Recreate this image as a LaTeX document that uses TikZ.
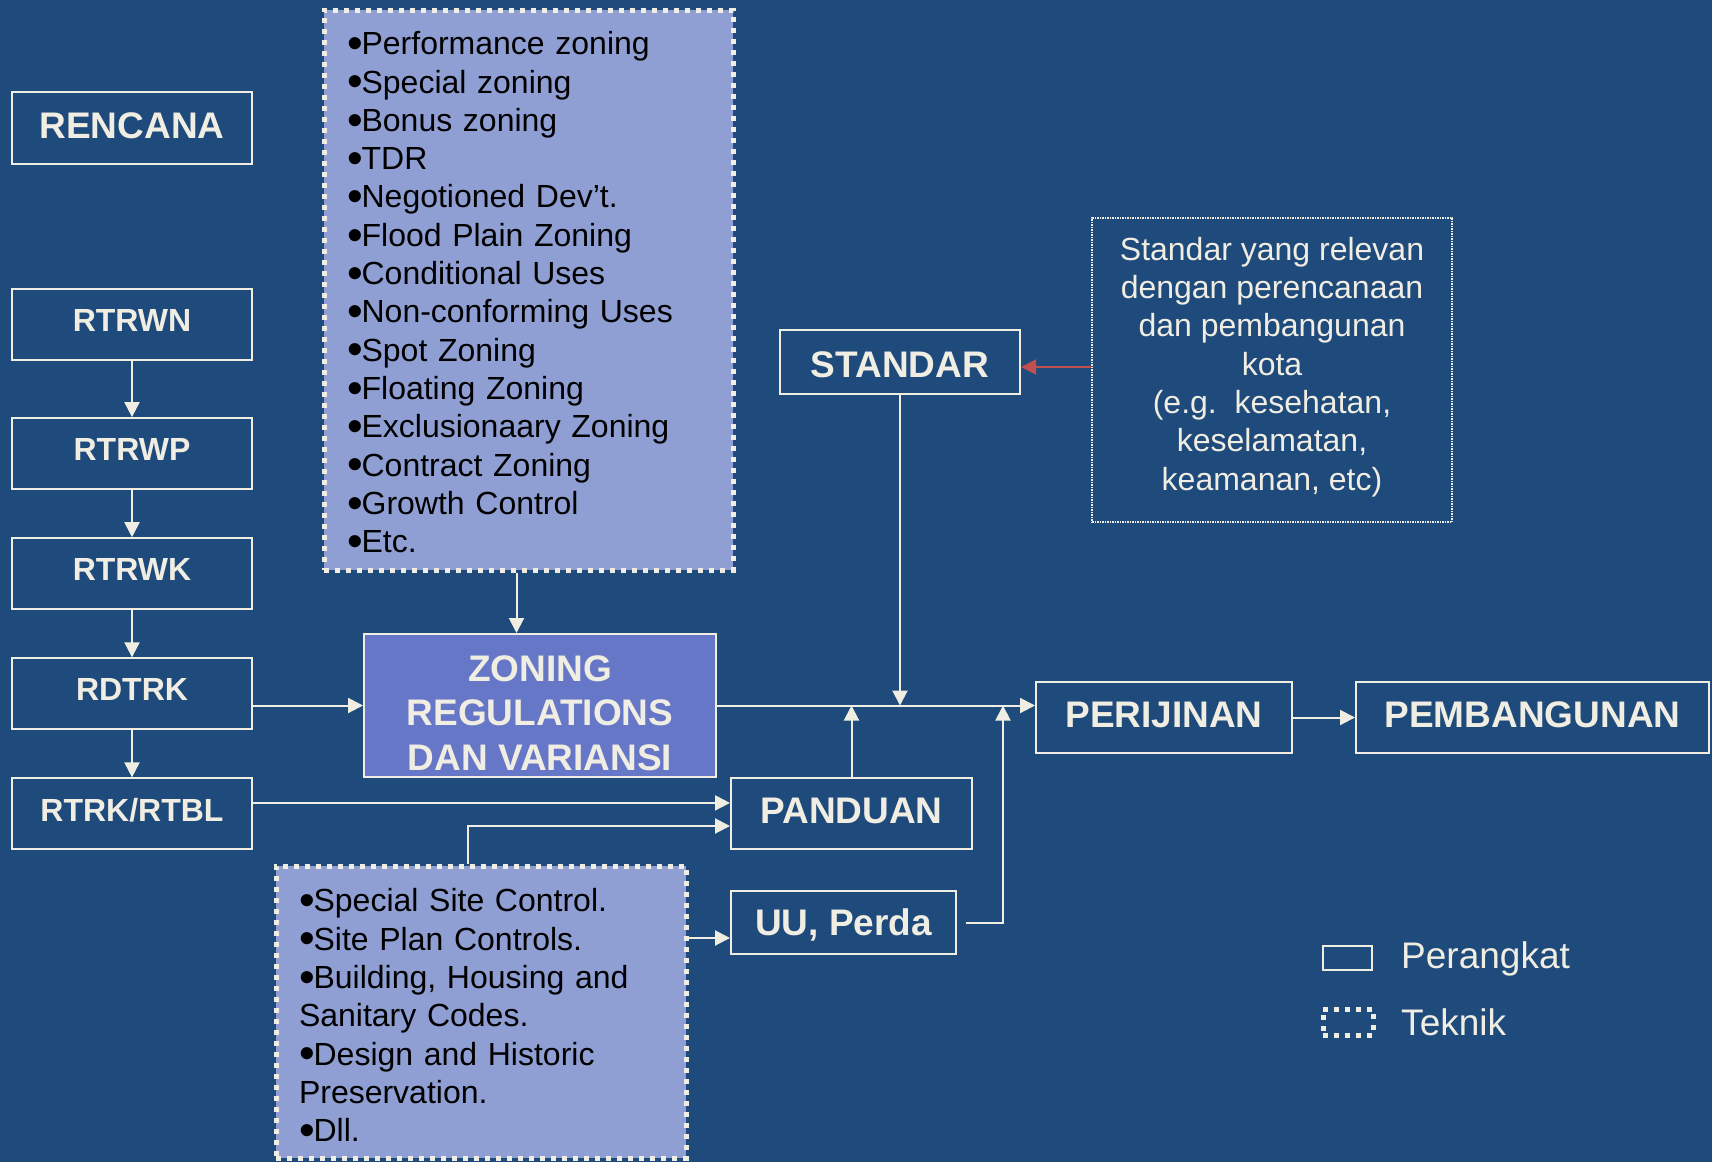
\documentclass[tikz,border=0pt]{standalone}
\usepackage{graphicx}
\usepackage{fontspec}
\setmainfont{Liberation Sans}
\usetikzlibrary{arrows.meta,calc}
\definecolor{bg}{HTML}{1F4A7C}
\definecolor{cream}{HTML}{F0EDE2}
\definecolor{lightfill}{HTML}{8F9FD3}
\definecolor{zonefill}{HTML}{6777C7}
\definecolor{redarrow}{HTML}{C0504D}
\newcommand\bul{\makebox[14.6pt][l]{\raisebox{-3.8pt}{\scalebox{1.4}{•}}}}
\begin{document}
\begin{tikzpicture}[x=1pt,y=-1pt,
  box/.style={draw=cream,line width=2pt,inner sep=0pt,text=cream,font=\bfseries\fontsize{37}{44.8}\selectfont,align=center},
  sbox/.style={box,font=\bfseries\fontsize{32}{38.4}\selectfont,text depth=9pt},
  tech/.style={draw=cream,fill=lightfill,line width=5pt,dash pattern=on 5pt off 6pt,inner sep=0pt},
  techtext/.style={text=black,align=left,inner sep=0pt,font=\fontsize{32}{38.3}\selectfont},
  arr/.style={draw=cream,line width=2pt,-{Triangle[length=15pt,width=15pt]}},
  redarr/.style={draw=redarrow,line width=2pt,-{Triangle[length=15pt,width=15pt]}},
  legtext/.style={text=cream,anchor=west,inner sep=0pt,font=\fontsize{37}{44}\selectfont},
]
\fill[bg] (0,0) rectangle (1712,1162);
\useasboundingbox (0,0) rectangle (1712,1162);

% left column
\node[box,text depth=5pt,minimum width=240pt,minimum height=72pt] (rencana) at (132,128) {RENCANA};
\node[sbox,minimum width=240pt,minimum height=71pt] (rtrwn) at (132,324.8) {RTRWN};
\node[sbox,minimum width=240pt,minimum height=71pt] (rtrwp) at (132,453.6) {RTRWP};
\node[sbox,minimum width=240pt,minimum height=71pt] (rtrwk) at (132,573.7) {RTRWK};
\node[sbox,minimum width=240pt,minimum height=71pt] (rdtrk) at (132,693.8) {RDTRK};
\node[sbox,minimum width=240pt,minimum height=71pt] (rtrk) at (132,813.9) {RTRK/RTBL};

% technique boxes
\node[tech,minimum width=409pt,minimum height=560pt] (topbox) at (528.5,290) {};
\node[techtext,text width=363pt] (toptext) at ([yshift=-4pt]topbox.center) {%
\bul Performance zoning\\\bul Special zoning\\\bul Bonus zoning\\\bul TDR\\\bul Negotioned Dev’t.\\\bul Flood Plain Zoning\\\bul Conditional Uses\\\bul Non-conforming Uses\\\bul Spot Zoning\\\bul Floating Zoning\\\bul Exclusionaary Zoning\\\bul Contract Zoning\\\bul Growth Control\\\bul Etc.};
\node[tech,minimum width=410pt,minimum height=292pt] (botbox) at (481,1012) {};
\node[techtext,text width=364pt] (bottext) at ([yshift=-5pt]botbox.center) {%
\bul Special Site Control.\\\bul Site Plan Controls.\\\bul Building, Housing and\\Sanitary Codes.\\\bul Design and Historic\\Preservation.\\\bul Dll.};

% centre
\node[box,fill=zonefill,minimum width=352pt,minimum height=143pt] (zoning) at (540,705.5) {\rule{0pt}{41pt}ZONING\\REGULATIONS\\DAN VARIANSI};
\node[box,text height=31pt,minimum width=240pt,minimum height=64pt] (standar) at (900,362) {STANDAR};
\node[draw=cream,line width=1.5pt,densely dotted,inner sep=0pt,minimum width=360pt,minimum height=304pt] (note) at (1272,370) {};
\node[text=cream,align=center,inner sep=0pt,font=\fontsize{32}{38.3}\selectfont] (notetext) at ([yshift=3pt]note.center) {Standar yang relevan\\dengan perencanaan\\dan pembangunan\\kota\\(e.g.\ \ kesehatan,\\keselamatan,\\keamanan, etc)};
\node[box,text depth=5pt,minimum width=256pt,minimum height=71pt] (perijinan) at (1164,717.5) {PERIJINAN};
\node[box,text depth=5pt,minimum width=353pt,minimum height=71pt] (pemb) at (1532.5,717.5) {PEMBANGUNAN};
\node[box,text depth=6pt,minimum width=241pt,minimum height=71pt] (panduan) at (851.5,813.5) {PANDUAN};
\node[box,text height=31pt,minimum width=225pt,minimum height=63pt] (uu) at (843.5,922.5) {UU, Perda};

% legend
\node[draw=cream,line width=2.5pt,minimum width=49pt,minimum height=24pt,inner sep=0pt] (lg1) at (1347.5,958) {};
\node[draw=cream,line width=5pt,dash pattern=on 5pt off 6pt,minimum width=50pt,minimum height=26pt,inner sep=0pt] (lg2) at (1348,1022) {};
\node[legtext] (lgt1) at (1401,959) {Perangkat};
\node[legtext] (lgt2) at (1401,1022) {Teknik};

% connectors
\draw[arr] (rtrwn) -- (rtrwp);
\draw[arr] (rtrwp) -- (rtrwk);
\draw[arr] (rtrwk) -- (rdtrk);
\draw[arr] (rdtrk) -- (rtrk);
\draw[arr] (rdtrk.east |- zoning.west) -- (zoning.west);
\draw[arr] ([xshift=-12pt]topbox.south) -- ([xshift=-12pt]topbox.south |- zoning.north);
\draw[arr] (zoning.east) -- (zoning.east -| perijinan.west);
\draw[arr] (standar.south) -- (standar.south |- zoning.east);
\draw[arr] (panduan.north) -- (panduan.north |- zoning.east);
\coordinate (uustart) at ([xshift=9pt]uu.east);
\coordinate (uuturn) at (1003,922.5);
\draw[arr] (uustart) -- (uuturn) -- (uuturn |- zoning.east);
\draw[arr] (perijinan.east) -- (pemb.west);
\coordinate (rtrkout) at ([yshift=11pt]rtrk.east);
\draw[arr] (rtrkout) -- (rtrkout -| panduan.west);
\coordinate (pandin) at ([yshift=-12.5pt]panduan.west);
\draw[arr] ([xshift=-13pt]botbox.north) |- (pandin);
\coordinate (uuin) at ([yshift=-15.5pt]uu.west);
\draw[arr] (botbox.east |- uuin) -- (uuin);
\coordinate (stdin) at ([yshift=-5pt]standar.east);
\draw[redarr] (note.west |- stdin) -- (stdin);
\end{tikzpicture}
\end{document}
